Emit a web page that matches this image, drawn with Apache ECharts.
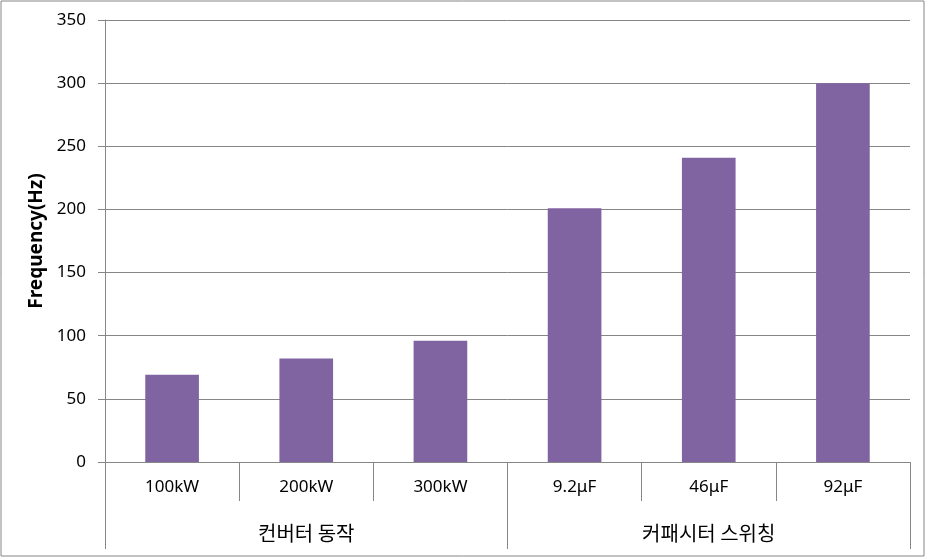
<!DOCTYPE html>
<html>
<head>
<meta charset="utf-8">
<script src="https://cdn.jsdelivr.net/npm/echarts@6/dist/echarts.min.js"></script>
<style>
html,body{margin:0;padding:0;background:#fff;}
#c{width:926px;height:558px;}
</style>
</head>
<body>
<div id="c"></div>
<script>
const categories = ['100kW', '200kW', '300kW', '9.2μF', '46μF', '92μF'];
const groups = ['컨버터 동작', '커패시터 스위칭'];
const frequency = [69, 82, 96, 201, 241, 300];
const yTicks = { min: 0, max: 350, interval: 50 };
const yTitle = 'Frequency(Hz)';

const FONT = "'Noto Sans', 'Noto Sans CJK KR', sans-serif";
const KFONT = "'Noto Sans CJK KR', sans-serif";
const GRAY = '#868686';

const chart = echarts.init(document.getElementById('c'));
chart.setOption({
  animation: false,
  backgroundColor: '#fff',
  textStyle: { fontFamily: FONT },
  grid: { left: 105, right: 16, top: 20, bottom: 96, containLabel: false },
  xAxis: [
    {
      type: 'category',
      data: categories,
      position: 'bottom',
      axisLine: { show: true, lineStyle: { color: GRAY, width: 1 } },
      axisTick: { show: true, interval: 0, alignWithLabel: false, length: 39, lineStyle: { color: GRAY } },
      axisLabel: { interval: 0, margin: 17, color: '#000', fontSize: 17, fontFamily: FONT },
      splitLine: { show: false }
    },
    {
      type: 'category',
      data: groups,
      position: 'bottom',
      axisLine: { show: false },
      axisTick: { show: true, interval: 0, alignWithLabel: false, length: 87, lineStyle: { color: GRAY } },
      axisLabel: { interval: 0, margin: 61, color: '#000', fontSize: 20, fontFamily: KFONT },
      splitLine: { show: false }
    }
  ],
  yAxis: {
    type: 'value',
    min: yTicks.min,
    max: yTicks.max,
    interval: yTicks.interval,
    name: yTitle,
    nameLocation: 'middle',
    nameGap: 57,
    nameTextStyle: { fontSize: 19, fontWeight: 'bold', color: '#000', fontFamily: FONT },
    axisLine: { show: true, lineStyle: { color: GRAY, width: 1 } },
    axisTick: { show: true, length: 7, lineStyle: { color: GRAY } },
    axisLabel: { margin: 19, color: '#000', fontSize: 17, fontFamily: FONT },
    splitLine: { show: true, lineStyle: { color: GRAY, width: 1 } }
  },
  series: [{
    type: 'bar',
    xAxisIndex: 0,
    data: frequency,
    barWidth: '40%',
    itemStyle: { color: '#8064A2' }
  }],
  graphic: [{
    type: 'rect',
    shape: { x: 1, y: 1, width: 923, height: 555 },
    style: { fill: 'none', stroke: GRAY, lineWidth: 1 },
    silent: true,
    z: 100
  }]
});
</script>
</body>
</html>
